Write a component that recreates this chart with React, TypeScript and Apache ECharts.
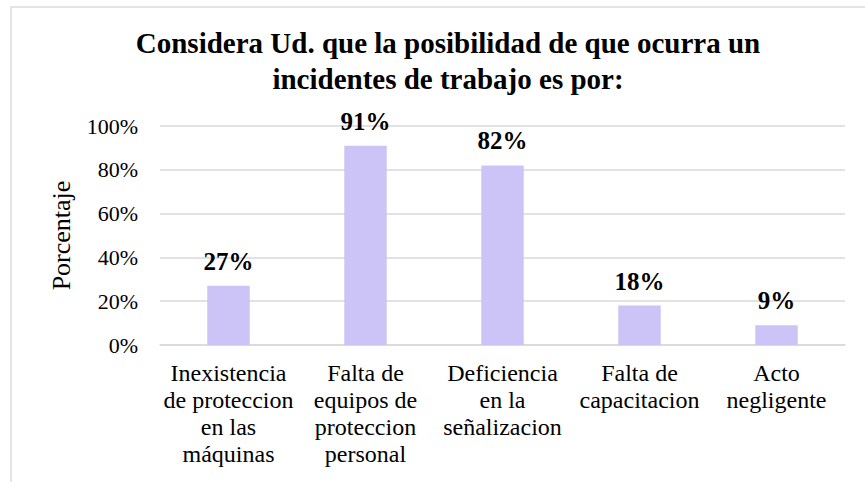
import React, { useEffect, useRef } from "react";
import * as echarts from "echarts";

const categories = [
  "Inexistencia\nde proteccion\nen las\nmáquinas",
  "Falta de\nequipos de\nproteccion\npersonal",
  "Deficiencia\nen la\nseñalizacion",
  "Falta de\ncapacitacion",
  "Acto\nnegligente",
];
const values = [27, 91, 82, 18, 9];
const yTicks = [0, 20, 40, 60, 80, 100];
const titleText = "Considera Ud. que la posibilidad de que ocurra un\nincidentes de trabajo es por:";
const yName = "Porcentaje";

const FONT = "'Liberation Serif', 'Times New Roman', serif";

export default function App() {
  const ref = useRef<HTMLDivElement>(null);
  useEffect(() => {
    if (!ref.current) return;
    const chart = echarts.init(ref.current, null, { renderer: "svg" });
    chart.setOption({
      animation: false,
      backgroundColor: "#ffffff",
      graphic: [
        {
          type: "rect",
          shape: { x: 11, y: 7, width: 900, height: 520 },
          style: { fill: "none", stroke: "#dcdcdc", lineWidth: 1.5 },
          silent: true,
        },
      ],
      title: {
        text: titleText,
        left: 443,
        top: 20,
        textAlign: "center",
        textStyle: {
          fontFamily: FONT,
          fontSize: 29,
          fontWeight: "bold",
          color: "#000",
          lineHeight: 36,
        },
      },
      grid: { left: 160, right: 20, top: 126, bottom: 137 },
      xAxis: {
        type: "category",
        data: categories,
        axisLine: { show: true, lineStyle: { color: "#d9d9d9", width: 1.5 } },
        axisTick: { show: false },
        axisLabel: {
          interval: 0,
          fontFamily: FONT,
          fontSize: 24,
          lineHeight: 27,
          color: "#000",
          margin: 14,
        },
      },
      yAxis: {
        type: "value",
        min: 0,
        max: 100,
        interval: 20,
        name: yName,
        nameLocation: "middle",
        nameGap: 86,
        nameTextStyle: { fontFamily: FONT, fontSize: 26, color: "#000" },
        axisLine: { show: false },
        axisTick: { show: false },
        splitLine: { lineStyle: { color: "#d9d9d9", width: 1.5 } },
        axisLabel: {
          fontFamily: FONT,
          fontSize: 22,
          color: "#000",
          margin: 22,
          formatter: (v: number) => (yTicks.includes(v) ? v + "%" : ""),
        },
      },
      series: [
        {
          type: "bar",
          data: values,
          barWidth: "31%",
          itemStyle: { color: "#CCC4F6" },
          label: {
            show: true,
            position: "top",
            distance: 12,
            formatter: "{c}%",
            fontFamily: FONT,
            fontSize: 25,
            fontWeight: "bold",
            color: "#000",
          },
        },
      ],
    });
    return () => chart.dispose();
  }, []);
  return (
    <div
      ref={ref}
      style={{ position: "fixed", left: 0, top: 0, width: 865, height: 482 }}
    />
  );
}
